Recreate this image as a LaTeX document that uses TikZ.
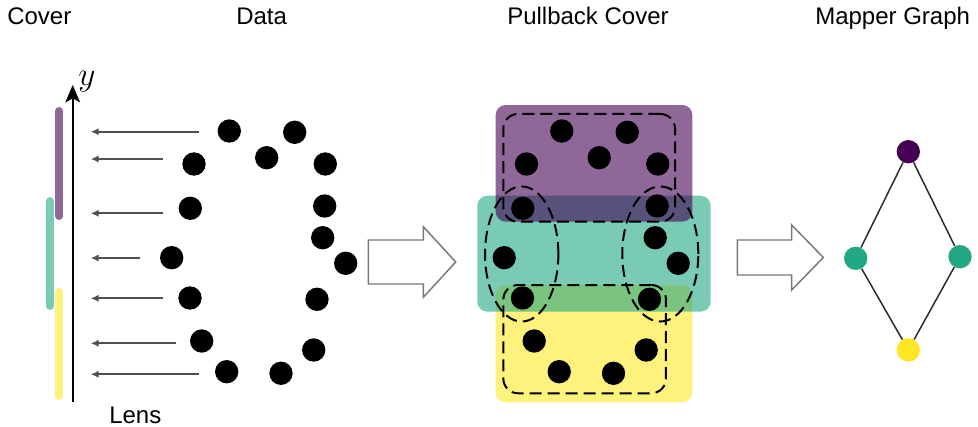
\documentclass[tikz,border=0pt]{standalone}
\usepackage{fontspec}
\setmainfont{Liberation Sans}
\usetikzlibrary{arrows.meta,shapes.geometric}
\definecolor{vpurple}{RGB}{68,1,84}
\definecolor{vgreen}{RGB}{34,168,132}
\definecolor{vyellow}{RGB}{253,231,37}
\definecolor{garrow}{RGB}{80,80,80}
\definecolor{hollow}{RGB}{120,120,120}
\definecolor{edgecol}{RGB}{40,40,40}
\tikzset{
  title/.style={anchor=base west,inner sep=0pt,font=\fontsize{18}{20}\selectfont},
  dot/.style={circle,fill=black,inner sep=0pt,minimum size=17.5pt},
  coverbar/.style={line width=6pt,line cap=round},
  proj/.style={garrow,line width=1.3pt,-{Latex[length=6pt,width=5.5pt]}},
  patch/.style={rounded corners=7.5pt,fill opacity=0.6,inner sep=0pt},
  clus/.style={draw=black,line width=1.5pt,dash pattern=on 9pt off 4.5pt,inner sep=0pt},
  hollowarrow/.style={draw=hollow,line width=1.1pt,fill=white},
  mnode/.style={circle,inner sep=0pt,minimum size=17.5pt},
  medge/.style={edgecol,line width=1.1pt}
}
\begin{document}
\begin{tikzpicture}[x=0.75pt,y=-0.75pt]
\useasboundingbox (0,0) rectangle (978,427);
% titles
\node[title] (tcover) at (7,25) {Cover};
\node[title] (tdata) at (236,25) {Data};
\node[title] (tpull) at (507,25) {Pullback Cover};
\node[title] (tmap) at (815,25) {Mapper Graph};
\node[title] (tlens) at (109,423) {Lens};
% cover bars
\draw[coverbar,vpurple!60!white] (59.3,111) -- (59.3,216);
\draw[coverbar,vgreen!60!white] (50,201) -- (50,306);
\draw[coverbar,vyellow!60!white] (59.3,292) -- (59.3,396);
% axis
\coordinate (axb) at (72.7,401.7);
\coordinate (axt) at (72.7,85);
\draw[line width=1.5pt,-{Stealth[length=13pt,width=11pt,inset=3pt]}] (axb) -- (axt);
\node[anchor=base west,inner sep=0pt,font=\fontsize{27}{29}\selectfont] (ylab) at (78,86) {$y$};
% projection arrows
\foreach \k/\yy/\tx in {1/131.7/199,2/159/162.7,3/213.3/162.7,4/258/140,5/298.3/162.7,6/343.3/176,7/374.3/199}{
  \coordinate (t\k) at (\tx,\yy);
  \coordinate (h\k) at (90.7,\yy);
  \draw[proj] (t\k) -- (h\k);
}
% pullback patches (yellow, green, purple)
\node[patch,fill=vyellow,minimum width=147.5pt,minimum height=88pt] (pyel) at (594,343.65) {};
\node[patch,fill=vgreen,minimum width=175pt,minimum height=87pt] (pgrn) at (594,253.7) {};
\node[patch,fill=vpurple,minimum width=147.5pt,minimum height=87.5pt] (ppur) at (594,163.35) {};
% data points and pullback points
\foreach \i/\x/\y in {1/229.3/131,2/294.7/132.3,3/194/164,4/266.7/157.7,5/325.3/164,6/190.3/208.3,7/324.7/206,8/322.7/237.7,9/171.7/257.7,10/345.7/263.3,11/190/298,12/317/299.3,13/201.7/341,14/313.7/350,15/226.7/371.7,16/281/373.3}{
  \node[dot] (d\i) at (\x,\y) {};
  \node[dot] (p\i) at (\x+332.5,\y) {};
}
% clusters
\node[clus,rectangle,rounded corners=11pt,minimum width=128.8pt,minimum height=80.8pt] (ctop) at (589.15,167.85) {};
\node[clus,rectangle,rounded corners=11pt,minimum width=122pt,minimum height=81.2pt] (cbot) at (584.65,339.15) {};
\node[clus,ellipse,minimum width=55pt,minimum height=101.3pt] (cleft) at (521.7,254) {};
\node[clus,ellipse,minimum width=57pt,minimum height=101.3pt] (cright) at (660.3,254) {};
% hollow arrows
\draw[hollowarrow] (368.3,240) -- (423.3,240) -- (423.3,226.7) -- (455.7,262) -- (423.3,297.3) -- (423.3,284) -- (368.3,284) -- cycle;
\draw[hollowarrow] (737.3,240) -- (791.7,240) -- (791.7,225) -- (823.3,257.5) -- (791.7,290) -- (791.7,275) -- (737.3,275) -- cycle;
% mapper graph
\node[mnode,fill=vpurple] (mtop) at (908.3,151.7) {};
\node[mnode,fill=vgreen] (mleft) at (855.7,258.3) {};
\node[mnode,fill=vgreen] (mright) at (960,256.7) {};
\node[mnode,fill=vyellow] (mbot) at (908.3,350) {};
\draw[medge] (mtop) -- (mleft);
\draw[medge] (mtop) -- (mright);
\draw[medge] (mleft) -- (mbot);
\draw[medge] (mright) -- (mbot);
\end{tikzpicture}
\end{document}
